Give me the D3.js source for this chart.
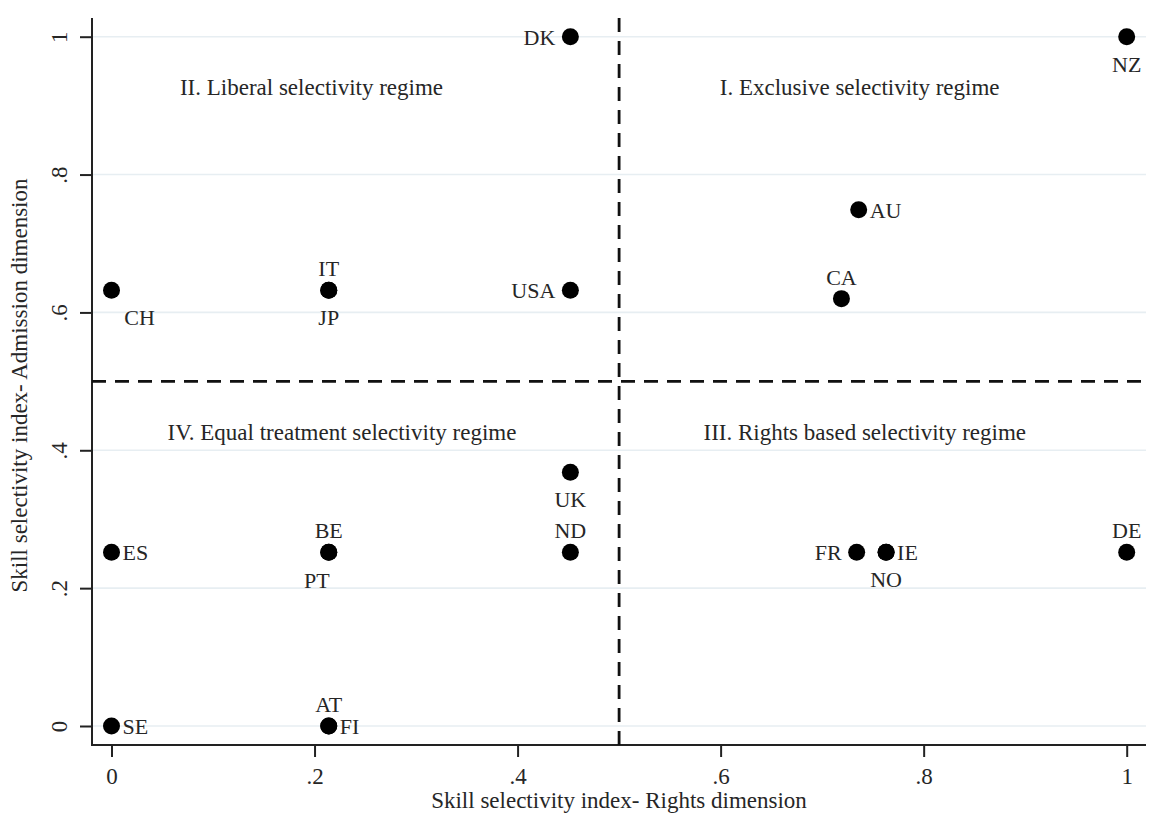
<!DOCTYPE html>
<html>
<head>
<meta charset="utf-8">
<script src="https://cdn.jsdelivr.net/npm/d3@7"></script>
<style>
html, body { margin: 0; padding: 0; background: #fff; }
svg { display: block; }
text { font-family: "Liberation Serif", "Times New Roman", serif; fill: #262626; }
</style>
</head>
<body>
<svg id="chart" width="1169" height="823"></svg>
<script>
// ---- data ----
const countries = ["DK","NZ","AU","CA","CH","IT","JP","USA","UK","ND","ES","BE","PT","FR","IE","NO","DE","SE","AT","FI"];
const rightsIndex = [0.452,1.0,0.736,0.719,0.0,0.214,0.214,0.452,0.452,0.452,0.0,0.214,0.214,0.734,0.763,0.763,1.0,0.0,0.214,0.214];
const admissionIndex = [1.0,1.0,0.749,0.62,0.632,0.632,0.632,0.632,0.368,0.252,0.252,0.252,0.252,0.252,0.252,0.252,0.252,0.0,0.0,0.0];
const labelPosition = ["l","b","r","t","br","t","b","l","b","t","r","t","bl","l","r","b","t","r","t","r"];

const regimeLabels = ["II. Liberal selectivity regime","I. Exclusive selectivity regime","IV. Equal treatment selectivity regime","III. Rights based selectivity regime"];
const regimeX = [0.197, 0.737, 0.227, 0.742];
const regimeY = [0.927, 0.927, 0.427, 0.427];

const xTicks = [0, 0.2, 0.4, 0.6, 0.8, 1];
const yTicks = [0, 0.2, 0.4, 0.6, 0.8, 1];
const tickLabel = v => v === 0 ? "0" : v === 1 ? "1" : String(v).replace(/^0/, "");
const cutoffX = 0.5, cutoffY = 0.5;
const xTitle = "Skill selectivity index- Rights dimension";
const yTitle = "Skill selectivity index- Admission dimension";

// ---- layout ----
const pL = 92, pR = 1146, pT = 18, pB = 745;
const x = d3.scaleLinear().domain([0, 1]).range([111.5, 1126.7]);
const y = d3.scaleLinear().domain([0, 1]).range([726, 36.7]);

const svg = d3.select("#chart");

// gridlines
svg.append("g").selectAll("line").data(yTicks).join("line")
  .attr("x1", pL).attr("x2", pR)
  .attr("y1", d => y(d)).attr("y2", d => y(d))
  .attr("stroke", "#e7eef2").attr("stroke-width", 1.6);

// axes
const xAxis = d3.axisBottom(x).tickValues(xTicks).tickFormat(tickLabel).tickSize(12).tickPadding(6);
const gx = svg.append("g").attr("transform", `translate(0,${pB})`).call(xAxis);
gx.select(".domain").remove();
gx.selectAll(".tick line").attr("stroke", "#222").attr("stroke-width", 2);
gx.selectAll(".tick text").attr("font-size", 23).attr("fill", "#262626")
  .attr("font-family", "Liberation Serif").attr("dy", "0.9em");

const yAxis = d3.axisLeft(y).tickValues(yTicks).tickFormat(tickLabel).tickSize(12);
const gy = svg.append("g").attr("transform", `translate(${pL},0)`).call(yAxis);
gy.select(".domain").remove();
gy.selectAll(".tick line").attr("stroke", "#222").attr("stroke-width", 2);
gy.selectAll(".tick text").attr("font-size", 23).attr("fill", "#262626")
  .attr("font-family", "Liberation Serif")
  .attr("x", null).attr("dy", null)
  .attr("text-anchor", "middle")
  .attr("transform", "translate(-25,0) rotate(-90)");

// axis lines
svg.append("line").attr("x1", pL).attr("x2", pL).attr("y1", pT).attr("y2", pB + 1)
  .attr("stroke", "#222").attr("stroke-width", 2);
svg.append("line").attr("x1", pL - 1).attr("x2", pR).attr("y1", pB).attr("y2", pB)
  .attr("stroke", "#222").attr("stroke-width", 2);

// cutoff dashed lines
svg.append("line").attr("x1", x(cutoffX)).attr("x2", x(cutoffX)).attr("y1", pT).attr("y2", pB)
  .attr("stroke", "#111").attr("stroke-width", 2.8).attr("stroke-dasharray", "14,9");
svg.append("line").attr("x1", pL).attr("x2", pR).attr("y1", y(cutoffY)).attr("y2", y(cutoffY))
  .attr("stroke", "#111").attr("stroke-width", 2.8).attr("stroke-dasharray", "14,9");

// regime labels
svg.append("g").selectAll("text").data(regimeLabels).join("text")
  .attr("x", (d, i) => x(regimeX[i])).attr("y", (d, i) => y(regimeY[i]) + 8)
  .attr("text-anchor", "middle").attr("font-size", 23).text(d => d);

// points
const pts = countries.map((c, i) => ({c, xv: rightsIndex[i], yv: admissionIndex[i], pos: labelPosition[i]}));
svg.append("g").selectAll("circle").data(pts).join("circle")
  .attr("cx", d => x(d.xv)).attr("cy", d => y(d.yv)).attr("r", 8.5).attr("fill", "#000");

const off = {
  l:  {dx: -15, dy: 8, anchor: "end"},
  r:  {dx: 11, dy: 8, anchor: "start"},
  t:  {dx: 0, dy: -14, anchor: "middle"},
  b:  {dx: 0, dy: 35, anchor: "middle"},
  br: {dx: 28, dy: 35, anchor: "middle"},
  bl: {dx: -12, dy: 36, anchor: "middle"}
};
svg.append("g").selectAll("text").data(pts).join("text")
  .attr("x", d => x(d.xv) + off[d.pos].dx)
  .attr("y", d => y(d.yv) + off[d.pos].dy)
  .attr("text-anchor", d => off[d.pos].anchor)
  .attr("font-size", 22).text(d => d.c);

// axis titles
svg.append("text").attr("x", (pL + pR) / 2).attr("y", 808)
  .attr("text-anchor", "middle").attr("font-size", 23).text(xTitle);
svg.append("text").attr("transform", `translate(27,${(pT + pB) / 2 + 4}) rotate(-90)`)
  .attr("text-anchor", "middle").attr("font-size", 23).text(yTitle);
</script>
</body>
</html>
